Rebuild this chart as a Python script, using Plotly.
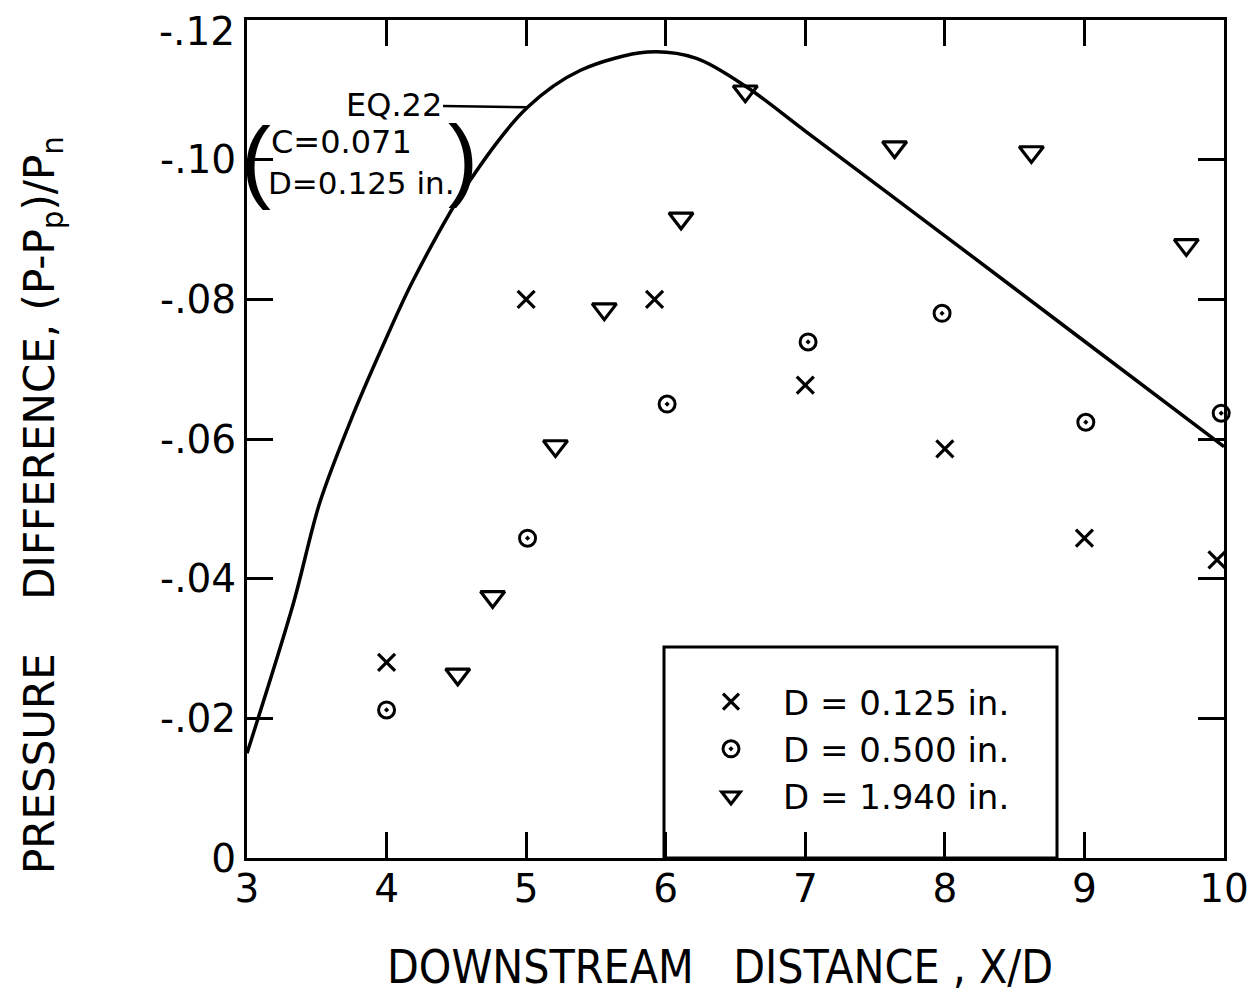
import plotly.graph_objects as go

# ---- data ----
x_d0125 = [4.0, 5.0, 5.92, 7.0, 8.0, 9.0, 9.95]
y_d0125 = [-0.028, -0.080, -0.080, -0.0677, -0.0586, -0.0458, -0.0427]

x_d0500 = [4.0, 5.01, 6.01, 7.02, 7.98, 9.01, 9.98]
y_d0500 = [-0.0212, -0.0458, -0.0650, -0.0739, -0.0780, -0.0624, -0.0637]

x_d1940 = [4.51, 4.76, 5.21, 5.56, 6.11, 6.57, 7.64, 8.62, 9.73]
y_d1940 = [-0.0263, -0.0374, -0.0590, -0.0786, -0.0916, -0.1098, -0.1018, -0.1011, -0.0878]

x_eq22 = [3.0, 3.33, 3.52, 3.74, 3.97, 4.19, 4.60, 5.01, 5.39, 5.87, 6.22, 6.58, 7.0, 8.0, 9.0, 10.0]
y_eq22 = [-0.0150, -0.0363, -0.0508, -0.0625, -0.0732, -0.0827, -0.0971, -0.1075, -0.1128, -0.1154,
          -0.1145, -0.1104, -0.1041, -0.0891, -0.0740, -0.0589]

x_ticks = [3, 4, 5, 6, 7, 8, 9, 10]
x_ticklabels = ["3", "4", "5", "6", "7", "8", "9", "10"]
y_ticks = [0, -0.02, -0.04, -0.06, -0.08, -0.10, -0.12]
y_ticklabels = ["0", "-.02", "-.04", "-.06", "-.08", "-.10", "-.12"]

legend_names = ["D = 0.125 in.", "D = 0.500 in.", "D = 1.940 in."]

FONT = "DejaVu Sans, Liberation Sans, sans-serif"
THIN = "Liberation Sans, DejaVu Sans, sans-serif"
NARROW = "Liberation Sans Narrow, DejaVu Sans Condensed, Arial Narrow, sans-serif"

fig = go.Figure()

fig.add_trace(go.Scatter(x=x_eq22, y=y_eq22, mode="lines",
                         line=dict(color="black", width=3.5, shape="spline", smoothing=0.9),
                         showlegend=False, hoverinfo="skip"))

fig.add_trace(go.Scatter(x=x_d0125, y=y_d0125, mode="markers", name=legend_names[0],
                         marker=dict(symbol="x-thin-open", size=17, color="black", line=dict(color="black", width=3.2)),
                         cliponaxis=False))
fig.add_trace(go.Scatter(x=x_d0500, y=y_d0500, mode="markers", name=legend_names[1],
                         marker=dict(symbol="circle-open-dot", size=16, color="black", line=dict(color="black", width=3)),
                         cliponaxis=False))
fig.add_trace(go.Scatter(x=x_d1940, y=y_d1940, mode="markers", name=legend_names[2],
                         marker=dict(symbol="triangle-down-open", size=21, color="black", line=dict(color="black", width=3.2)),
                         cliponaxis=False))

axis_common = dict(showgrid=False, zeroline=False, showline=True, linecolor="black", linewidth=3,
                   mirror="ticks", ticks="inside", ticklen=26, tickwidth=3, tickcolor="black",
                   ticklabeloverflow="allow", automargin=False,
                   tickfont=dict(family=FONT, size=39, color="black"))

fig.update_xaxes(range=[3, 10], tickmode="array", tickvals=x_ticks, ticktext=x_ticklabels,
                 ticklabelstandoff=-6, **axis_common)
# the top label (-.12) sits just below the top edge in the original, so it is placed as an annotation
fig.update_yaxes(range=[0, -0.12], tickmode="array", tickvals=y_ticks[:-1], ticktext=y_ticklabels[:-1],
                 **axis_common)


def px_x(px):
    return (px - 247) / 977.0


def px_y(py):
    return (858 - py) / 838.0


def note(text, px, py, size, family=FONT, xanchor="center", **kw):
    return dict(text=text, xref="paper", yref="paper", x=px_x(px), y=px_y(py), xanchor=xanchor,
                yanchor="middle", showarrow=False, font=dict(family=family, size=size, color="black"), **kw)


annotations = [
    dict(text=y_ticklabels[-1], xref="paper", yref="y", x=0, y=y_ticks[-1], xanchor="right", yanchor="middle",
         xshift=-10, yshift=-11, showarrow=False, font=dict(family=FONT, size=39, color="black")),
    note("DOWNSTREAM\u00a0\u00a0\u00a0DISTANCE\u00a0,\u00a0X/D", 720, 967, 46, family=NARROW),
    note("PRESSURE\u00a0\u00a0\u00a0\u00a0DIFFERENCE,\u00a0(P-P<sub>p</sub>)/P<sub>n</sub>", 42, 505, 42, textangle=-90),
    dict(text="EQ.22", x=5.01, y=-0.1075, xref="x", yref="y", ax=-134, ay=-2, axref="pixel", ayref="pixel",
         showarrow=True, arrowhead=0, arrowwidth=2.5, arrowcolor="black",
         font=dict(family=FONT, size=32, color="black")),
    note("C=0.071", 269, 142, 32, xanchor="left"),
    note("D=0.125 in.", 266, 183, 31, xanchor="left"),
    note("(", 256, 160, 90, family=THIN),
    note(")", 463, 158, 90, family=THIN),
]

fig.update_layout(
    width=1254, height=997,
    margin=dict(l=247, r=30, t=20, b=139, autoexpand=False),
    paper_bgcolor="white", plot_bgcolor="white",
    showlegend=True,
    legend=dict(x=px_x(679), y=px_y(673), xanchor="left", yanchor="top", bgcolor="rgba(0,0,0,0)",
                borderwidth=0, itemwidth=94, font=dict(family=FONT, size=34, color="black"),
                tracegroupgap=0),
    annotations=annotations,
    shapes=[dict(type="rect", xref="paper", yref="paper", x0=px_x(664), x1=px_x(1057), y0=0, y1=px_y(647),
                 line=dict(color="black", width=3))],
)

fig.write_html("out.html")
